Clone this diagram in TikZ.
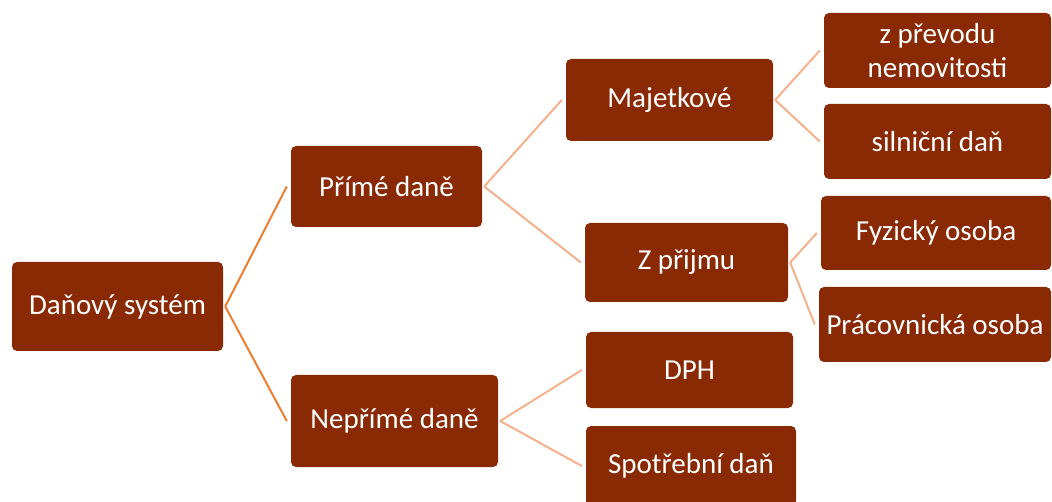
\documentclass[tikz,border=0pt]{standalone}
\usepackage{fontspec}
\setmainfont{Carlito}
\definecolor{boxfill}{RGB}{137,42,5}
\definecolor{lineA}{RGB}{237,125,49}
\definecolor{lineB}{RGB}{244,177,140}
\begin{document}
\begin{tikzpicture}[x=1pt,y=-1pt,
  tbox/.style={draw=none,fill=boxfill,rounded corners=5pt,text=white,inner sep=0pt,
    font=\fontsize{29}{34}\selectfont,align=center},
  linka/.style={draw=lineA,line width=2pt},
  linkb/.style={draw=lineB,line width=2pt}]
\useasboundingbox (0,0) rectangle (1052,502);
\node[tbox,minimum width=211pt,minimum height=89pt] (ds) at (117.5,306.5) {Daňový systém};
\node[tbox,minimum width=191pt,minimum height=81pt] (pd) at (386.5,186.5) {Přímé daně};
\node[tbox,minimum width=207pt,minimum height=92pt] (nd) at (394.5,421) {Nepřímé daně};
\node[tbox,minimum width=207pt,minimum height=82pt] (mj) at (669.5,100) {Majetkové};
\node[tbox,minimum width=203pt,minimum height=79pt] (zp) at (686.5,262.5) {Z přijmu};
\node[tbox,minimum width=207pt,minimum height=76pt] (dph) at (689.5,370) {DPH};
\node[tbox,minimum width=210pt,minimum height=80pt] (sd) at (691,466) {Spotřební daň};
\node[tbox,minimum width=227pt,minimum height=75pt] (zpn) at (937.5,50.5) {z převodu\\nemovitosti};
\node[tbox,minimum width=227pt,minimum height=75pt] (sil) at (937.5,141.5) {silniční daň};
\node[tbox,minimum width=230pt,minimum height=74pt] (fo) at (936,233) {Fyzický osoba};
\node[tbox,minimum width=232pt,minimum height=75pt] (po) at (935,324.5) {Prácovnická osoba};
\draw[linka] ([xshift=2pt]ds.east) -- ([xshift=-4pt]pd.west);
\draw[linka] ([xshift=2pt]ds.east) -- ([xshift=-4pt]nd.west);
\draw[linkb] ([xshift=2pt]pd.east) -- ([xshift=-4pt]mj.west);
\draw[linkb] ([xshift=2pt]pd.east) -- ([xshift=-4pt]zp.west);
\draw[linkb] ([xshift=2pt]nd.east) -- ([xshift=-4pt]dph.west);
\draw[linkb] ([xshift=2pt]nd.east) -- ([xshift=-4pt]sd.west);
\draw[linkb] ([xshift=2pt]mj.east) -- ([xshift=-4pt]zpn.west);
\draw[linkb] ([xshift=2pt]mj.east) -- ([xshift=-4pt]sil.west);
\draw[linkb] ([xshift=2pt]zp.east) -- ([xshift=-4pt]fo.west);
\draw[linkb] ([xshift=2pt]zp.east) -- ([xshift=-4pt]po.west);
\end{tikzpicture}
\end{document}
